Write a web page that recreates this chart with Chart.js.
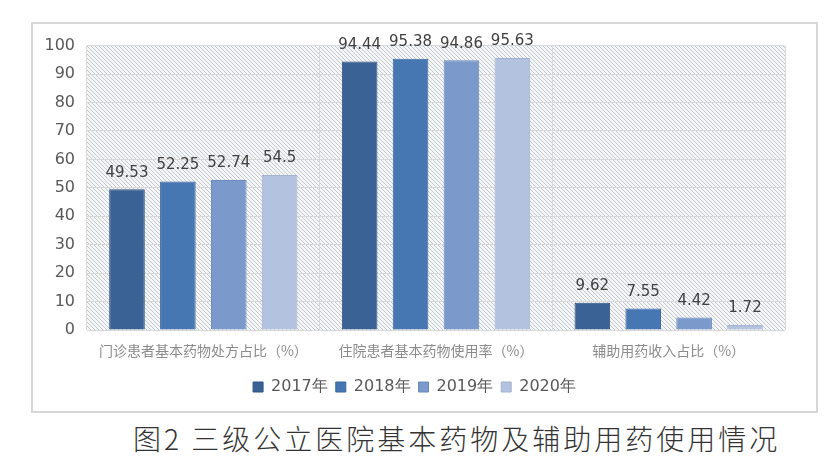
<!DOCTYPE html>
<html>
<head>
<meta charset="utf-8">
<script src="https://cdn.jsdelivr.net/npm/chart.js@4.4.1/dist/chart.umd.min.js"></script>
<style>
  body { margin: 0; background: #fff; width: 836px; height: 471px; position: relative; overflow: hidden; }
  #box { position: absolute; left: 31px; top: 22px; width: 783px; height: 387px; border: 2px solid #d6d6d6; }
  #title { position: absolute; left: 133px; top: 418px; font: 300 28px "Noto Sans CJK SC"; letter-spacing: 3px; color: #333; white-space: nowrap; }
</style>
</head>
<body>
<div id="box"><canvas id="chart" width="783" height="387"></canvas></div>
<div id="title">图2 三级公立医院基本药物及辅助用药使用情况</div>
<script>
const categories = ["门诊患者基本药物处方占比（%）", "住院患者基本药物使用率（%）", "辅助用药收入占比（%）"];
const years = ["2017年", "2018年", "2019年", "2020年"];
const values2017 = [49.53, 94.44, 9.62];
const values2018 = [52.25, 95.38, 7.55];
const values2019 = [52.74, 94.86, 4.42];
const values2020 = [54.5, 95.63, 1.72];
const yTicks = [0, 10, 20, 30, 40, 50, 60, 70, 80, 90, 100];

const colors = ["#3b6294", "#4677b3", "#7b9acb", "#b3c2de"];
const borders = ["#2f5382", "#3a689f", "#6a8abb", "#a3b3d2"];

// hatched plot background
const hatch = {
    id: "hatch",
    beforeDraw(chart) {
        const { ctx, chartArea: a } = chart;
        ctx.save();
        ctx.beginPath();
        ctx.rect(a.left, a.top, a.right - a.left, a.bottom - a.top);
        ctx.clip();
        ctx.fillStyle = "#f5f6f8";
        ctx.fillRect(a.left, a.top, a.right - a.left, a.bottom - a.top);
        ctx.strokeStyle = "rgba(178,183,192,0.75)";
        ctx.lineWidth = 1;
        const h = a.bottom - a.top;
        ctx.beginPath();
        for (let x = a.left - h; x < a.right; x += 4) {
            ctx.moveTo(x, a.top);
            ctx.lineTo(x + h, a.bottom);
        }
        ctx.stroke();
        ctx.restore();
    },
};

// value labels above bars
const valueLabels = {
    id: "valueLabels",
    afterDatasetsDraw(chart) {
        const ctx = chart.ctx;
        ctx.save();
        ctx.font = "15px 'DejaVu Sans'";
        ctx.fillStyle = "#404040";
        ctx.textAlign = "center";
        ctx.textBaseline = "bottom";
        chart.data.datasets.forEach((ds, i) => {
            chart.getDatasetMeta(i).data.forEach((bar, j) => {
                ctx.fillText(String(ds.data[j]), bar.x, bar.y - 9);
            });
        });
        ctx.restore();
    },
};

const allValues = [values2017, values2018, values2019, values2020];

new Chart(document.getElementById("chart"), {
    type: "bar",
    data: {
        labels: categories,
        datasets: allValues.map((v, i) => ({
            label: years[i],
            data: v,
            backgroundColor: colors[i],
            borderColor: borders[i],
            borderWidth: 1,
            categoryPercentage: 0.875,
            barPercentage: 0.7,
        })),
    },
    options: {
        responsive: false,
        animation: false,
        layout: { padding: { top: 13, left: 11, right: 31, bottom: 6 } },
        plugins: {
            legend: {
                position: "bottom",
                labels: {
                    font: { family: "DejaVu Sans", size: 16 },
                    color: "#595959",
                    boxWidth: 10,
                    boxHeight: 10,
                    padding: 8,
                },
            },
            tooltip: { enabled: false },
        },
        scales: {
            x: {
                grid: { color: "#d9d9d9", drawTicks: false, offset: true },
                border: { display: false },
                ticks: {
                    font: { family: "Noto Sans CJK SC", size: 14 },
                    color: "#8c8c8c",
                    padding: 12,
                    maxRotation: 0,
                },
                afterFit(scale) { scale.height = 41; },
            },
            y: {
                min: 0,
                max: 100,
                afterBuildTicks(scale) { scale.ticks = yTicks.map(v => ({ value: v })); },
                grid: { color: "#d9d9d9", drawTicks: false },
                border: { display: false },
                ticks: {
                    font: { family: "DejaVu Sans", size: 16 },
                    color: "#595959",
                    padding: 12,
                },
                afterFit(scale) { scale.width = 43; },
            },
        },
    },
    plugins: [hatch, valueLabels],
});
</script>
</body>
</html>
